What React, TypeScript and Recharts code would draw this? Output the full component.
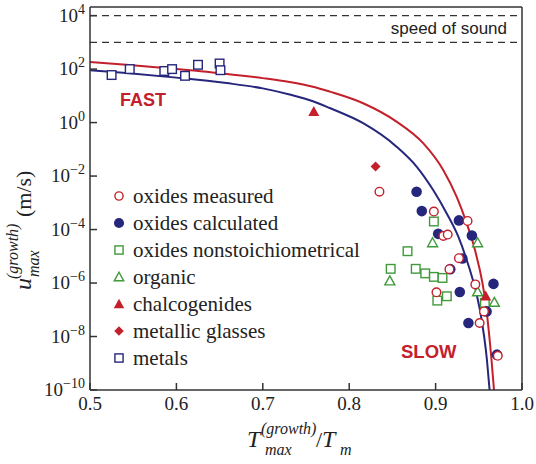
import React from "react";
import { ComposedChart, Line, Scatter, XAxis, YAxis, ReferenceLine } from "recharts";

// theory curves (x = Tmax/Tm, y = u in m/s)
const redCurve = [
  { x: 0.5, y: 186 }, { x: 0.542, y: 145 }, { x: 0.6, y: 100 }, { x: 0.658, y: 66 },
  { x: 0.7, y: 46 }, { x: 0.731, y: 33 }, { x: 0.758, y: 22 }, { x: 0.7775, y: 14.4 },
  { x: 0.8161, y: 5.3 }, { x: 0.8548, y: 1.09 }, { x: 0.8856, y: 0.17 }, { x: 0.9088, y: 0.017 },
  { x: 0.9243, y: 1.7e-3 }, { x: 0.9359, y: 1.74e-4 }, { x: 0.9455, y: 1.74e-5 }, { x: 0.9589, y: 1e-7 },
  { x: 0.9647, y: 1.35e-9 }, { x: 0.9676, y: 1e-10 },
];
const blueCurve = [
  { x: 0.5, y: 91 }, { x: 0.542, y: 71 }, { x: 0.6, y: 48 }, { x: 0.658, y: 30 },
  { x: 0.7, y: 19 }, { x: 0.731, y: 11.2 }, { x: 0.758, y: 6.3 }, { x: 0.7775, y: 3.5 },
  { x: 0.8161, y: 0.95 }, { x: 0.8548, y: 0.126 }, { x: 0.878, y: 0.0227 }, { x: 0.8972, y: 3.0e-3 },
  { x: 0.9127, y: 4.1e-4 }, { x: 0.9262, y: 5.5e-5 }, { x: 0.9359, y: 7.4e-6 }, { x: 0.9513, y: 1e-7 },
  { x: 0.9594, y: 1.35e-9 }, { x: 0.9625, y: 1e-10 },
];

const oxidesMeasured = [
  { x: 0.835, y: 2.6e-3 }, { x: 0.898, y: 4.7e-4 }, { x: 0.937, y: 2.1e-4 }, { x: 0.909, y: 5.8e-5 },
  { x: 0.914, y: 6.5e-5 }, { x: 0.916, y: 3.3e-6 }, { x: 0.927, y: 8.5e-6 }, { x: 0.901, y: 4.5e-7 },
  { x: 0.946, y: 8.9e-7 }, { x: 0.956, y: 8.7e-8 }, { x: 0.951, y: 3.2e-8 }, { x: 0.972, y: 1.9e-9 },
];
const oxidesCalculated = [
  { x: 0.878, y: 2.6e-3 }, { x: 0.884, y: 4.9e-4 }, { x: 0.927, y: 2.2e-4 }, { x: 0.903, y: 6.9e-5 },
  { x: 0.942, y: 6.0e-5 }, { x: 0.917, y: 3.3e-6 }, { x: 0.931, y: 8.3e-6 }, { x: 0.928, y: 4.6e-7 },
  { x: 0.967, y: 9.3e-7 }, { x: 0.959, y: 8.7e-8 }, { x: 0.938, y: 3.2e-8 }, { x: 0.971, y: 2.1e-9 },
];
const oxidesNonstoich = [
  { x: 0.898, y: 2.0e-4 }, { x: 0.8675, y: 1.55e-5 }, { x: 0.848, y: 3.4e-6 }, { x: 0.877, y: 3.4e-6 },
  { x: 0.888, y: 2.3e-6 }, { x: 0.898, y: 1.7e-6 }, { x: 0.908, y: 1.55e-6 }, { x: 0.902, y: 2.2e-7 },
  { x: 0.913, y: 3.2e-7 }, { x: 0.957, y: 1.8e-7 },
];
const organic = [
  { x: 0.8965, y: 3.2e-5 }, { x: 0.9486, y: 3.2e-5 }, { x: 0.847, y: 1.2e-6 },
  { x: 0.9486, y: 4.7e-7 }, { x: 0.968, y: 1.9e-7 },
];
const chalcogenides = [{ x: 0.759, y: 2.6 }, { x: 0.958, y: 3.3e-7 }];
const metallicGlasses = [{ x: 0.8305, y: 2.3e-2 }];
const metals = [
  { x: 0.525, y: 60 }, { x: 0.546, y: 100 }, { x: 0.586, y: 85 }, { x: 0.595, y: 100 },
  { x: 0.61, y: 56 }, { x: 0.625, y: 145 }, { x: 0.65, y: 162 }, { x: 0.651, y: 91 },
];

const xTicks = [0.5, 0.6, 0.7, 0.8, 0.9, 1.0];
const xTickLabels = ["0.5", "0.6", "0.7", "0.8", "0.9", "1.0"];
const yTicks = [1e-10, 1e-8, 1e-6, 1e-4, 1e-2, 1, 1e2, 1e4];
const yTickExps = ["−10", "−8", "−6", "−4", "−2", "0", "2", "4"];
const soundLines = [1e4, 1e3];

const RED = "#c4202b";
const BLUE = "#26267c";
const GREEN = "#3f9a3a";
const AXIS = "#333";
const serif = { fontFamily: "Liberation Serif, DejaVu Serif, serif" };
const sans = { fontFamily: "Liberation Sans, Arial, sans-serif" };

const legendItems = [
  { label: "oxides measured", kind: "openCircle" },
  { label: "oxides calculated", kind: "filledCircle" },
  { label: "oxides nonstoichiometrical", kind: "greenSquare" },
  { label: "organic", kind: "greenTriangle" },
  { label: "chalcogenides", kind: "redTriangle" },
  { label: "metallic glasses", kind: "diamond" },
  { label: "metals", kind: "blueSquare" },
];

function Marker({ kind, cx, cy, s = 1 }: any) {
  switch (kind) {
    case "openCircle":
      return <circle cx={cx} cy={cy} r={4.3 * s} fill="#fff" stroke={RED} strokeWidth={1.4} />;
    case "filledCircle":
      return <circle cx={cx} cy={cy} r={5.3 * s} fill={BLUE} />;
    case "greenSquare":
      return <rect x={cx - 4.3 * s} y={cy - 4.3 * s} width={8.6 * s} height={8.6 * s} fill="#fff" stroke={GREEN} strokeWidth={1.4} />;
    case "blueSquare":
      return <rect x={cx - 4.3 * s} y={cy - 4.3 * s} width={8.6 * s} height={8.6 * s} fill="#fff" stroke={BLUE} strokeWidth={1.4} />;
    case "greenTriangle":
      return <polygon points={`${cx},${cy - 5 * s} ${cx + 5 * s},${cy + 4 * s} ${cx - 5 * s},${cy + 4 * s}`} fill="#fff" stroke={GREEN} strokeWidth={1.4} />;
    case "redTriangle":
      return <polygon points={`${cx},${cy - 5.5 * s} ${cx + 5.5 * s},${cy + 4.5 * s} ${cx - 5.5 * s},${cy + 4.5 * s}`} fill={RED} />;
    case "diamond":
      return <polygon points={`${cx},${cy - 5 * s} ${cx + 5 * s},${cy} ${cx},${cy + 5 * s} ${cx - 5 * s},${cy}`} fill={RED} />;
    default:
      return null;
  }
}

const shapeOf = (kind: string) => (p: any) => <Marker kind={kind} cx={p.cx} cy={p.cy} />;

const YTick = (props: any) => {
  const { x, y, index } = props;
  return (
    <g>
      <line x1={x} x2={x + 7} y1={y} y2={y} stroke={AXIS} strokeWidth={1.5} />
      <text x={x - 5} y={y + 6} textAnchor="end" style={serif} fontSize={19} fill="#222">
        <tspan>10</tspan>
        <tspan dy={-8} fontSize={14}>{yTickExps[index]}</tspan>
      </text>
    </g>
  );
};

const XTick = (props: any) => {
  const { x, y, index } = props;
  return (
    <g>
      <line x1={x} x2={x} y1={y} y2={y - 7} stroke={AXIS} strokeWidth={1.5} />
      <text x={x} y={y + 20} textAnchor="middle" style={serif} fontSize={19} fill="#222">
        {xTickLabels[index]}
      </text>
    </g>
  );
};

export default function App() {
  return (
    <div style={{ position: "absolute", left: 0, top: 0, width: 536, height: 464, background: "#fff" }}>
      <ComposedChart width={536} height={464} margin={{ top: 7, right: 14, left: 0, bottom: 0 }}>
        <XAxis
          dataKey="x"
          type="number"
          domain={[0.5, 1.0]}
          ticks={xTicks}
          height={74}
          tickSize={0}
          tickMargin={0}
          tickLine={false}
          axisLine={{ stroke: AXIS, strokeWidth: 1.5 }}
          tick={<XTick />}
          allowDataOverflow
        />
        <YAxis
          dataKey="y"
          type="number"
          scale="log"
          domain={[1e-10, 2.1e4]}
          ticks={yTicks}
          width={90}
          tickSize={0}
          tickMargin={0}
          tickLine={false}
          axisLine={{ stroke: AXIS, strokeWidth: 1.5 }}
          tick={<YTick />}
          allowDataOverflow
        />
        <ReferenceLine x={1.0} stroke={AXIS} strokeWidth={1.5} />
        <ReferenceLine y={2.1e4} stroke={AXIS} strokeWidth={1.5} />
        {soundLines.map((v) => (
          <ReferenceLine key={v} y={v} stroke="#333" strokeWidth={1.2} strokeDasharray="7 5" />
        ))}
        <Line data={redCurve} dataKey="y" type="monotone" stroke={RED} strokeWidth={2} dot={false} isAnimationActive={false} />
        <Line data={blueCurve} dataKey="y" type="monotone" stroke={BLUE} strokeWidth={2} dot={false} isAnimationActive={false} />
        <Scatter data={metals} dataKey="y" shape={shapeOf("blueSquare")} isAnimationActive={false} />
        <Scatter data={oxidesNonstoich} dataKey="y" shape={shapeOf("greenSquare")} isAnimationActive={false} />
        <Scatter data={organic} dataKey="y" shape={shapeOf("greenTriangle")} isAnimationActive={false} />
        <Scatter data={oxidesCalculated} dataKey="y" shape={shapeOf("filledCircle")} isAnimationActive={false} />
        <Scatter data={oxidesMeasured} dataKey="y" shape={shapeOf("openCircle")} isAnimationActive={false} />
        <Scatter data={chalcogenides} dataKey="y" shape={shapeOf("redTriangle")} isAnimationActive={false} />
        <Scatter data={metallicGlasses} dataKey="y" shape={shapeOf("diamond")} isAnimationActive={false} />
      </ComposedChart>
      <svg width={536} height={464} style={{ position: "absolute", left: 0, top: 0, pointerEvents: "none" }}>
        <text x={507} y={34} textAnchor="end" style={sans} fontSize={17} fill="#222">speed of sound</text>
        <text x={120} y={106} style={sans} fontSize={18} fontWeight="bold" fill={RED}>FAST</text>
        <text x={401} y={358} style={sans} fontSize={18.5} fontWeight="bold" fill={RED}>SLOW</text>
        {legendItems.map((it, i) => (
          <g key={it.label}>
            <Marker kind={it.kind} cx={119} cy={196 + 27 * i} s={0.95} />
            <text x={133} y={203 + 27 * i} style={serif} fontSize={21} fill="#222">{it.label}</text>
          </g>
        ))}
        {/* x axis title */}
        <g style={serif} fill="#222">
          <text x={247} y={447} fontSize={24} fontStyle="italic">T</text>
          <text x={265} y={455} fontSize={16} fontStyle="italic">max</text>
          <text x={261} y={434} fontSize={16} fontStyle="italic">(growth)</text>
          <text x={316} y={447} fontSize={22}>/</text>
          <text x={322} y={447} fontSize={24} fontStyle="italic">T</text>
          <text x={340} y={455} fontSize={16} fontStyle="italic">m</text>
        </g>
        {/* y axis title */}
        <g transform="translate(31,290) rotate(-90)" style={serif} fill="#222">
          <text x={0} y={0} fontSize={24} fontStyle="italic">u</text>
          <text x={13} y={8} fontSize={16} fontStyle="italic">max</text>
          <text x={11} y={-13} fontSize={16} fontStyle="italic">(growth)</text>
          <text x={73} y={0} fontSize={22}>(m/s)</text>
        </g>
      </svg>
    </div>
  );
}
